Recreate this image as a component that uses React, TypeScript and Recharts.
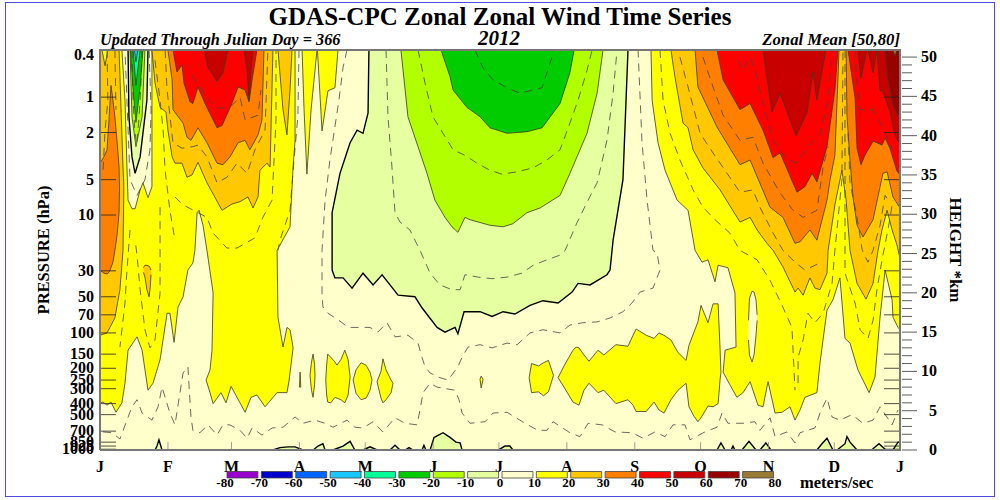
import React from "react";
import { ComposedChart, Area, Line, Bar, Cell, XAxis, YAxis, BarChart } from "recharts";

type P = number[];
const TOP_KM = 50.9;
const monthDays = [0, 31, 60, 91, 121, 152, 182, 213, 244, 274, 305, 335, 365];
const monthLabels = ["J", "F", "M", "A", "M", "J", "J", "A", "S", "O", "N", "D", "J"];
const pressureLabels = ["0.4", "1", "2", "5", "10", "30", "50", "70", "100", "150", "200", "250", "300", "400", "500", "700", "850", "925", "1000"];
const pressureKm = [50.3, 44.9, 40.4, 34.4, 29.9, 22.8, 19.5, 17.2, 14.9, 12.2, 10.4, 8.9, 7.8, 5.9, 4.5, 2.4, 1.0, 0.5, 0.1];
const heightKm = Array.from(Array(51).keys());
const legendEdges = [-80, -70, -60, -50, -40, -30, -20, -10, 0, 10, 20, 30, 40, 50, 60, 70, 80];
const legendColors = ["#9900cc", "#0000cc", "#0066ff", "#19c8ff", "#00ff99", "#00cc00", "#b2ff00", "#e6ffa0", "#ffffcc", "#ffff00", "#ffc800", "#ff8000", "#ff0000", "#c80000", "#990000", "#997a33"];

// contour bands hanging from the top of the plot: [day, lower km]
const yellowMain: P[] = [[0,6],[1.4,6.1],[3.2,5.7],[5,6.1],[7.3,4.8],[10,6],[11.4,8.5],[12.8,12.7],[16.9,14.4],[19.2,12.7],[21.9,7.6],[24.2,8.5],[27.4,11.5],[30.6,17.4],[31.9,17.4],[33.8,13.7],[35.6,18.2],[37.9,19.5],[40.1,22.9],[42.4,23.8],[43.3,25.4],[44.3,30.2],[45.2,30.5],[47,28.6],[48.8,25.4],[51.6,20],[51.1,12.7],[50.2,10.2],[48.4,8.9],[50.2,7.3],[51.6,5.9],[55.2,7.3],[57.5,6],[59.8,8.1],[62.5,6.7],[66.2,4.8],[68.9,6.7],[71.6,7],[75.3,5.5],[80.8,7.3],[85.3,7.3],[86.2,8.7],[88.1,13],[86.7,15.3],[85.3,15.6],[83.5,13.1],[81.2,16.9],[80.8,25.4],[86.7,28.4],[88.1,36],[89,39.4],[89,50.9]];
const yellowSpikeA: P[] = [[92.2,50.9],[93.1,43.3],[94.4,35.1],[96.3,43.3],[99,50.9]];
const yellowSpikeB: P[] = [[99.2,50.9],[101.3,40.6],[104,45.7],[107.2,46.1],[108.6,50.9]];
const paleJan: P[] = [[10,50.9],[11.4,44.5],[12.3,36],[12.8,31.8],[14.6,30.7],[16,30.7],[18.3,33.1],[19.6,34],[21.9,32.1],[23.7,33.5],[23.7,50.9]];
const zeroJan: P[] = [[12.8,50.9],[13.2,42.4],[14.6,37.3],[16,35.2],[18.3,37.3],[21.4,44.5],[21.9,50.9]];
const limeJan: P[] = [[13.7,50.9],[14.6,42.4],[16.4,38.6],[19.2,42.4],[20.5,50.9]];
const greenJan: P[] = [[13.9,50.9],[15.1,45.8],[16.4,41.7],[18.3,46.1],[19.6,50.9]];
const springJan: P[] = [[15.1,50.9],[16.4,46.4],[18.3,50.9]];
const cyanJan: P[] = [[15.7,50.9],[16.4,49.4],[17.3,50.9]];
const goldLeft: P[] = [[0,14.6],[3.2,14.9],[6.8,16.8],[9.1,20.4],[10.5,25.4],[10.9,33.5],[10.5,36],[8.7,50.9]];
const yellowSlit: P[] = [[0.9,50.9],[2.3,48.9],[3.6,50.9]];
const goldMain: P[] = [[23.7,50.9],[25.1,46.7],[27.4,43.6],[30.1,43],[31,40.7],[32.9,37.3],[34.2,36.5],[37.4,36.5],[39.7,34.7],[42,35],[44.7,36.6],[48.8,34],[55.7,30.5],[60.2,31.3],[63.9,31.6],[67.5,32.2],[69.8,30.8],[72.1,32.2],[73,35.6],[76.2,36.5],[77.6,36],[78.9,50.9]];
const goldSpikeApr: P[] = [[81.2,50.9],[83.5,43.3],[85.3,40.1],[86.7,45.8],[87.6,50.9]];
const orangeMain: P[] = [[31,50.9],[32.9,47.1],[33.3,43.3],[37.9,41.6],[39.7,39.8],[41.5,39.4],[44.7,41],[48.8,39.1],[53.4,36.5],[56.1,36.3],[59.3,37.3],[63,39.1],[66.2,39.4],[68.4,38.2],[72.1,40.1],[73.9,42],[74.8,50.9]];
const redMain: P[] = [[33.3,50.9],[35.1,48.1],[37.4,49],[38.3,46.7],[41.1,44.3],[42.4,44.1],[44.7,46.2],[47.9,44.1],[53.4,41],[55.7,41.3],[60.2,44.1],[63,46.2],[66.2,45.8],[68,44.3],[69.4,47.1],[71.6,50.9]];
const darkFebA: P[] = [[47.5,50.9],[49.3,48.7],[53.4,46.9],[56.1,48],[58.4,50.9]];
const darkFebB: P[] = [[65.7,50.9],[67.1,48.3],[68,44.5],[68.9,48.3],[69.8,50.9]];
const zeroSummer: P[] = [[122.7,50.9],[122.3,42.9],[120,40.3],[117.3,40.7],[114.1,39.1],[109.5,35.2],[105.9,30.2],[105.9,22.9],[107.2,21.9],[110.9,21.9],[115,20.6],[120,22.5],[124.6,21],[128.7,22.3],[136,19.7],[143.7,19.5],[146.9,18.1],[153.8,15.6],[157.4,15],[162,15.6],[163.3,14.8],[166.1,17.6],[173.4,17.6],[178.9,17],[183.9,17.6],[189.3,17.3],[196.2,18.4],[202.1,19],[209,18.7],[215.4,20.1],[218.1,21.2],[223.6,21],[231.3,22.3],[232.7,22.9],[234.1,26.7],[238.6,34.4],[240.9,50.9]];
const limeSummer: P[] = [[137.3,50.9],[140.5,42.4],[145.1,38.6],[149.2,35.2],[152.8,31.8],[157.4,29.6],[160.6,28.4],[163.3,27.7],[166.5,29.6],[168.8,29.3],[177.9,28.6],[183.9,28.4],[188.4,28.8],[194.8,30.2],[200.8,30.8],[209.9,32.4],[214.4,35.2],[222.2,40.3],[226.8,45.4],[229.5,50.9]];
const greenSummer: P[] = [[155.6,50.9],[159.7,47.5],[161.1,45.8],[167.4,43.6],[173.4,42.4],[177.9,41],[185.7,40.3],[194.8,40.5],[201.7,41],[209.9,44.1],[214.4,48],[216.3,50.9]];
const yellowRight: P[] = [[251.4,50.9],[251.9,44.5],[254.6,39.1],[257.8,35.6],[263.3,31.8],[268.3,30.5],[271.5,25.4],[274.7,23.9],[277.4,24.2],[280.6,21.4],[282,23.5],[286.5,23.2],[289.7,20],[290.2,13.1],[285.2,12.7],[284.3,9.9],[287.4,8.3],[290.6,6.7],[293.4,7.3],[296.6,8.7],[300.2,5.7],[302.5,5.5],[304.8,8.7],[308,4.7],[311.2,4.8],[314.8,5.5],[317.1,3.8],[319.4,5.1],[321.6,6.7],[327.1,7.3],[328.5,11.1],[331.7,17.8],[334.4,19.1],[337.6,21.9],[339.9,14.2],[342.2,13.6],[345.8,10.2],[350.9,7.3],[353.6,9.3],[355.9,16.9],[358.2,22.9],[361.4,19.1],[361.8,16.9],[364.1,15.6],[365,15.3]];
const goldRight: P[] = [[260.5,50.9],[262.3,47.5],[266,41.6],[268.3,41],[270.6,38.2],[275.1,35.9],[282.9,33.1],[292,29],[296.6,29.6],[299.8,28],[304.3,26.3],[307.1,25.4],[311.6,23.3],[317.1,20.1],[318.5,20.6],[320.8,19.7],[323.9,21.9],[326.2,20.6],[328.5,20.4],[331.7,22.5],[332.2,25.4],[335.3,31.2],[338.5,35.6],[340.4,31.8],[342.2,25.4],[345.4,21.2],[349.5,19.2],[352.7,21.2],[355,25.4],[356.8,28],[359.1,30.5],[361.4,28],[363.6,26.1],[365,24.4]];
const orangeRight: P[] = [[271.5,50.9],[272.8,46.2],[281.5,41.1],[292,36.3],[296.6,36.9],[305.7,30.9],[311.6,29.6],[317.1,26.3],[319.4,26.5],[323.9,28],[327.1,26.7],[331.7,31.8],[333.1,34.4],[335.3,37.5],[336.3,44.5],[337.2,50.9],[340.4,50.9],[340.8,42.6],[342.2,36.8],[343.6,32.1],[345.4,28.6],[348.1,27.1],[352.7,29.3],[357.2,35.2],[359.1,35.4],[361.8,32.2],[365,30.8]];
const redRight: P[] = [[281.5,50.9],[284.3,47.1],[292,43.3],[296.6,44.1],[302.5,40.7],[307.1,37.2],[310.3,37.8],[318,32.8],[321.6,33.5],[324.9,35.2],[327.1,34.1],[331.7,38.6],[333.1,41.4],[335.3,45.8],[336.7,50.9],[341.3,50.9],[344.5,44.8],[345.4,38.4],[347.2,36.3],[349,37.5],[352.7,39.3],[354.5,39.1],[356.8,38.8],[358.2,39.7],[360.4,38.4],[363.6,35.5],[365,35]];
const darkNov: P[] = [[302.5,50.9],[306.6,43],[310.3,45.4],[317.6,40],[322.6,42.9],[325.3,48.1],[327.1,44.5],[331.2,50.9]];
const darkDec: P[] = [[345.8,50.9],[347.2,47.3],[349.9,50.9]];
const darkEnd: P[] = [[350.4,50.9],[352.7,48],[354.5,50.9],[355.9,45.7],[357.2,45.7],[359.1,44.1],[360.4,43.1],[362.7,40.1],[364.1,39.3],[365,39.2]];
const maroonEnd: P[] = [[358.2,50.9],[359.5,47.3],[361.8,43.9],[364.1,42.6],[365,42.5]];
const brownEnd: P[] = [[361.8,50.9],[362.7,50.1],[363.6,50.9]];

// closed islands: [day, lower km, upper km]
const orangeLeft: P[] = [[0,22.9,36.5],[1.8,22.5,37.3],[3.2,22.4,38.2],[4.1,22.6,42],[5,23.2,46.4],[5.9,23.9,44.5],[6.8,25.4,42.4],[7.8,27.4,39.2],[8.7,30.2,36],[8.9,33.1,33.1]];
const goldFeb: P[] = [[19.8,22.6,23.2],[20.5,22,23.5],[21.4,20.4,23.5],[22.4,19.5,23.4],[22.8,20.4,23.2],[23.3,22.3,22.9]];
const paleNov: P[] = [[295.9,14,16.5],[296.3,12.1,19.3],[297.5,11.2,20.2],[298.4,12.1,20.1],[299.3,14.6,19.1],[299.8,16.5,17.2]];
const jetApr1: P[] = [[91,8,8],[91.3,8,9.9],[91.6,8,8]];
const jetApr2: P[] = [[95.8,9.5,9.5],[96.5,7.6,11.2],[97.2,6.7,12.2],[97.9,8.3,10.9],[98.1,9.5,9.5]];
const jetMay1: P[] = [[103,8.9,8.9],[103.4,7,10.8],[103.9,6.1,12.2],[105.3,6,11.8],[107.2,6.7,11.2],[108.1,6.6,10.8],[109.9,6.4,11.5],[111.7,6,12.7],[113.2,7,11.5],[114.1,9.3,9.3]];
const jetMay2: P[] = [[115.5,8.9,8.9],[116.8,7.2,10.2],[119.1,6.4,11.1],[121.4,6.6,10.8],[123.2,7.6,9.9],[124.1,8.9,8.9]];
const jetMay3: P[] = [[126.4,8.7,8.7],[128.2,6.6,10],[129.1,6,11.6],[130.5,6.4,10.2],[132.8,7.3,8.9],[133.7,8.5,8.5]];
const jetJun: P[] = [[173.4,9,9],[173.9,7.9,9.4],[174.8,9,9]];
const jetAug1: P[] = [[195.8,9.2,9.2],[196.9,7.3,11],[200.1,7.4,10.7],[202.3,6.9,11.1],[204.6,7.4,11.4],[206.9,9.5,9.5]];
const jetAug2: P[] = [[209,9.2,9.2],[211.7,8,10.7],[215.8,6.1,12.7],[217.2,5.9,13.1],[218.5,5.7,13],[220.8,7.6,12.1],[223.1,8.5,11.3],[227.2,7.3,12.7],[229.9,7.6,12.1],[235.4,5.9,13.4],[240.9,6.4,13.2],[243.2,5.7,14.6],[244.6,4.9,15.4],[249.2,4.9,14.6],[252.8,6.1,14.2],[255,5.1,14.9],[257.3,4.7,14.6],[260.5,6.4,14],[263.7,7.6,12.4],[267.4,8.5,11.4],[268.7,5.5,13.3],[271,4.3,15],[272.8,3.6,16.3],[274.2,4.1,18.4],[277.4,5.6,16.2],[279.7,5.5,18.6],[282,5.9,18.6],[282.9,8.9,12.9],[283.3,9.9,9.9]];

// ground layer: [day, km]
const groundZero: P[] = [[0,0],[25.1,0],[26,0.5],[26.9,1.3],[28.3,0],[78.9,0],[82.1,0.3],[85.8,0.4],[89,0.4],[92.6,0],[97.2,0],[99.5,0.5],[101.7,0.8],[102.7,0],[106.3,0],[110.9,0.5],[114.1,1.1],[116.3,0],[120,0],[123.2,0.4],[126.4,0],[132.3,0],[134.6,0.6],[136.9,0],[139.2,0],[141,0.3],[142.8,0],[146.9,0],[147.8,0.6],[148.7,0],[150.6,0],[152.4,1.6],[153.8,1.8],[156.5,2.2],[159.7,1.6],[162.4,1],[164.3,0.9],[165.2,0],[181.6,0],[184.8,0.5],[187,0.5],[188.4,0],[281.5,0],[283.3,0.9],[285.2,0],[287.9,0],[288.8,0.5],[289.7,0],[292.9,0],[296.1,1.1],[299.3,0],[301.1,0],[303.8,0.9],[306.1,0],[327.1,0],[329.4,0.8],[331.7,1.5],[334.4,0],[336.3,0],[339.9,0.8],[340.8,1.7],[342.2,1],[345.4,0],[352,0],[355.4,0.8],[358.6,0],[361.8,0],[364.1,1],[365,1]];

// dashed intermediate contours: [day, km]
const dashA: P[] = [[130.5,50.9],[131.4,42.4],[133.2,36],[134.6,30.2],[136.9,29],[141.4,28],[146,25.4],[150.6,22.5],[155.1,21],[160.6,20.4],[164.3,20.4],[166.5,22.3],[172.5,22],[178.9,21.8],[185.7,22],[192.5,22.5],[197.6,23.5],[203.9,24.2],[209.9,24.8],[212.2,25.4],[217.6,28.9],[222.7,31.8],[226.8,34],[231.3,39.4],[234.1,45.4],[235.9,50.9]];
const dashB: P[] = [[145.1,50.9],[148.3,46.7],[151.9,42.4],[156.5,40.3],[161.1,38.2],[166.5,37.5],[172,36.5],[177.9,35.6],[183.4,35.1],[190.3,35.4],[197.6,35.9],[203.9,36.9],[209.9,38.2],[214.4,41.6],[218.1,44.5],[222.2,48.3],[224.5,50.9]];
const dashC: P[] = [[171.1,50.9],[174.8,48.6],[179.3,47.1],[185.7,46.1],[191.6,45.4],[201.7,46.1],[206.2,50],[206.7,50.9]];
const dashD: P[] = [[112.7,50.9],[110.9,48.7],[109,44.5],[104.9,36.9],[102.7,31.8],[101.3,25.4],[101.3,20],[101.7,18.2],[104,17.4],[109.5,16.4],[113.2,15.6],[117.7,15.6],[123.2,15.6],[126.8,15],[130.9,16.2],[134.6,14.4],[140.5,14.6],[145.1,13.6],[146.9,11.8],[148.3,10.6],[150.6,9.8],[155.1,9.2],[158.8,8.9],[163.3,10.6],[165.2,11.8],[167.9,13.1],[173.4,13.4],[178.9,13],[185.7,13.6],[190.3,13.4],[196.2,14.9],[202.1,15.3],[209.9,14.9],[214.4,15.9],[220.4,16.2],[226.8,16.3],[232.7,16.8],[238.6,17.6],[242.7,18.7],[246.4,20.1],[252.3,20.6],[255.5,22.9],[254.1,25.1],[252.3,25.4],[249.6,31.8],[247.3,39.1],[245.5,50.9]];
const dashE: P[] = [[1.4,2.3],[5.5,2.2],[9.1,1.4],[12.3,3.8],[14.6,5.5],[16.9,6.4],[19.2,4.7],[23.7,3.8],[26.5,5.5],[28.3,8],[31.9,4.7],[34.2,3.2],[36.5,7.3],[37.9,9.8],[40.1,10.6],[41.5,4.2],[42.4,2.5],[45.6,2.2],[49.3,3.2],[53.4,1.9],[56.1,3.2],[59.3,3.2],[63.9,2.5],[67.1,1.5],[69.4,2.8],[73.9,1.9],[78.5,2.8],[83.5,2.9],[89,4.2],[92.6,3.4],[98.1,3.8],[102.7,3.4],[106.3,2.9],[112.7,3.8],[116.3,2.9],[120,2.8],[124.6,3.6],[129.1,2.3],[134.6,4.1],[139.2,3.4],[144.6,3.2],[146,5.1],[147.4,7.3],[150.6,8.5],[153.8,8],[162,7.6],[163.8,6.4],[165.2,4.7],[168.8,3.4],[175.7,3.6],[179.3,4.7],[185.7,4.8],[193.9,3.4],[199.8,2.5],[203.9,2.5],[206.7,3.6],[214.4,2.2],[219,1.7],[222.7,3.4],[229.1,3.2],[235,2.3],[242.7,2.2],[247.8,1.5],[253.2,2.3],[257.8,1.7],[261.4,3.2],[266.9,3.2],[269.2,1.3],[276,2.3],[281.5,2.9],[283.8,4.7],[286.5,3.4],[293.4,3.4],[298.8,3.6],[301.1,2.5],[305.7,4.1],[308,1.7],[313.4,2.3],[317.1,0.9],[319.4,2.2],[326.2,2.8],[328.5,4.7],[331.7,6.6],[334,4.2],[337.6,3.8],[343.1,4.5],[348.1,3.4],[352.7,3.8],[355.9,5.5],[361.4,3.2],[364.1,5.1]];
const dashG: P[] = [[255.5,50.9],[256.9,44.5],[260.1,40.3],[264.6,36.9],[270.6,33.1],[275.1,30.9],[280.6,29.3],[287.4,27.6],[292,25.4],[299.8,24.2],[305.7,21.6],[311.2,18.4],[315.7,15.6],[316.2,12.7],[317.1,7.6]];
const dashH: P[] = [[318.5,8.5],[318.5,11.8],[320.8,14],[323,17.4],[326.2,16.2],[329.9,17.4],[334,21.2],[335.3,25.4],[338.5,34.4],[339,50.9]];
const dashI: P[] = [[264.6,50],[268.3,46.2],[273.8,40.3],[279.7,37.8],[286.1,35.2],[292,32.8],[297.9,33.1],[301.1,30.9],[307.1,27.6],[311.6,25.4],[317.1,23.9],[321.6,22.9],[326.2,23.5],[329.4,23.9]];
const dashJ: P[] = [[275.1,50],[279.7,46.2],[284.3,42.6],[292,39.4],[297.9,39.8],[302.5,36.5],[310.3,32.7],[316.2,30.5],[320.8,29.6],[327.1,30.5],[329.9,36],[332.2,38.6]];
const dashK: P[] = [[291.1,49.6],[293.4,48.3],[296.6,50],[299.8,47.5],[302.5,44.1],[307.1,39.4],[312.5,37.3],[317.6,36.5],[323.9,38.8],[328.5,40.1],[332.2,44.5],[334,50.9]];
const dashL: P[] = [[339.9,50.9],[339.9,31.8],[339.9,22.5],[344.5,18.7],[346.8,15.3],[350.4,14.2],[352.7,16.5],[354.5,20.4],[356.8,24.2],[359.5,28],[361.8,31.8]];
const dashM: P[] = [[341.3,40.3],[342.2,34],[345.4,29.6],[347.8,25.4],[350.4,23.9],[352.7,25.4],[355.9,28.6],[358.2,32.4],[360.4,31.5]];
const dashN: P[] = [[344.5,50.9],[345.4,46.7],[346.8,43.3],[352.7,43.3],[357.2,41.1],[361.4,38.2]];
const dashO: P[] = [[29.7,50.9],[30.6,45.8],[33.3,39.1],[37.4,38.4],[42.4,38.6],[44.7,38.8],[48.8,37.3],[53.4,34],[57.9,34.7],[62.5,36.5],[67.1,35.2],[70.7,38.2],[75.3,40.7],[76.6,50.9]];
const dashP: P[] = [[34.2,32.2],[37.9,31.2],[48.8,29.6],[51.6,27.6],[57.9,25.7],[62.5,25.7],[70.7,27],[74.3,29.6],[78.5,31.8],[80.3,42],[80.3,50.9]];
const dashQ: P[] = [[42,47.7],[48.8,44.9],[53.4,43.5],[59.3,43.6],[63.9,44.9],[66.2,42],[72.1,42.6],[73.4,45.8]];
const dashR: P[] = [[27.4,30.9],[27.4,20],[25.1,14],[22.8,13],[20.5,15.3],[18.3,20.4],[16.9,24.8],[16,26.7]];
const dashS: P[] = [[13.7,28],[12.3,22.9],[11.4,18.7],[9.1,13.1]];
const dashT: P[] = [[90.8,50.9],[90.3,42.6],[88.1,35.5],[86.7,30.5],[82.1,26.7],[81.2,25.4]];
const dashU: P[] = [[22.4,50.9],[23.3,43.3],[22.8,38.2],[20.5,34.4],[16.9,32.4],[13.7,34.4],[12.3,44.5],[11.4,50.9]];
const dashV: P[] = [[3.2,50.9],[3.6,44.5],[2.3,40.7],[1.4,35.6]];
const dashW: P[] = [[6.8,50.9],[7.3,43.3]];
const dashX: P[] = [[25.1,49.6],[27.4,44.5],[28.8,40.7],[29.7,35.6],[31.9,30.5],[34.2,26.7]];
const dashY: P[] = [[14.6,50.9],[15,45],[15.8,41],[16.4,39.5]];
const dashZ: P[] = [[19.1,50.9],[18.6,46],[17.6,41.5],[16.8,39.2]];

const plotFrame = [{ day: 0, km: 0 }, { day: 365, km: 0 }, { day: 365, km: TOP_KM }, { day: 0, km: TOP_KM }, { day: 0, km: 0 }];
const plotBackground = [{ day: 0, band: [0, TOP_KM] }, { day: 365, band: [0, TOP_KM] }];

const hang = (a: P[]) => a.map(([day, km]) => ({ day, band: [km, TOP_KM] }));
const isle = (a: P[]) => a.map(([day, lo, hi]) => ({ day, band: [lo, hi] }));
const ground = (a: P[]) => a.map(([day, km]) => ({ day, band: [0, km] }));

const C = { v0: "#e6ffa0", m10: "#b2ff00", m20: "#00cc00", m30: "#00ff99", m40: "#19c8ff", pale: "#ffffcc", y: "#ffff00", g: "#ffc800", o: "#ff8000", r: "#ff0000", d: "#c80000", m: "#990000", b: "#997a33" };

const bands: { data: any[]; fill: string; heavy?: boolean }[] = [
  { data: ground(groundZero), fill: C.v0, heavy: true },
  { data: hang(yellowMain), fill: C.y },
  { data: hang(yellowSpikeA), fill: C.y },
  { data: hang(yellowSpikeB), fill: C.y },
  { data: hang(yellowRight), fill: C.y },
  { data: isle(jetApr1), fill: C.y },
  { data: isle(jetApr2), fill: C.y },
  { data: isle(jetMay1), fill: C.y },
  { data: isle(jetMay2), fill: C.y },
  { data: isle(jetMay3), fill: C.y },
  { data: isle(jetJun), fill: C.y },
  { data: isle(jetAug1), fill: C.y },
  { data: isle(jetAug2), fill: C.y },
  { data: isle(paleNov), fill: C.pale },
  { data: hang(paleJan), fill: C.pale },
  { data: hang(zeroJan), fill: C.v0, heavy: true },
  { data: hang(limeJan), fill: C.m10 },
  { data: hang(greenJan), fill: C.m20 },
  { data: hang(springJan), fill: C.m30 },
  { data: hang(cyanJan), fill: C.m40 },
  { data: hang(goldLeft), fill: C.g },
  { data: hang(yellowSlit), fill: C.y },
  { data: isle(orangeLeft), fill: C.o },
  { data: isle(goldFeb), fill: C.g },
  { data: hang(goldMain), fill: C.g },
  { data: hang(goldSpikeApr), fill: C.g },
  { data: hang(orangeMain), fill: C.o },
  { data: hang(redMain), fill: C.r },
  { data: hang(darkFebA), fill: C.d },
  { data: hang(darkFebB), fill: C.d },
  { data: hang(zeroSummer), fill: C.v0, heavy: true },
  { data: hang(limeSummer), fill: C.m10 },
  { data: hang(greenSummer), fill: C.m20 },
  { data: hang(goldRight), fill: C.g },
  { data: hang(orangeRight), fill: C.o },
  { data: hang(redRight), fill: C.r },
  { data: hang(darkNov), fill: C.d },
  { data: hang(darkDec), fill: C.d },
  { data: hang(darkEnd), fill: C.d },
  { data: hang(maroonEnd), fill: C.m },
  { data: hang(brownEnd), fill: C.b },
];
const dashes = [dashA, dashB, dashC, dashD, dashE, dashG, dashH, dashI, dashJ, dashK, dashL, dashM, dashN, dashO, dashP, dashQ, dashR, dashS, dashT, dashU, dashV, dashW, dashX, dashY, dashZ];
const legendRows = legendColors.map((c, i) => ({ mid: (legendEdges[i] + legendEdges[i + 1]) / 2, span: 1 }));

// inward tick marks, kept above the filled bands: 7.3 days is the tick length on the time axis, 1 km on the height axis
const pressureSegments = pressureKm.slice(1).flatMap((km) => [
  [{ day: 0, km }, { day: 7.3, km }],
  [{ day: 357.7, km }, { day: 365, km }],
]);
const monthSegments = monthDays.slice(1, -1).map((day) => [{ day, km: 0 }, { day, km: 1 }]);

const SERIF = "'Liberation Serif', serif";
const boldText = { fontFamily: SERIF, fontWeight: 700, fill: "#000" } as const;

const LeftTick = (p: any) => (
  <text x={p.x - 4} y={p.y + 5} textAnchor="end" fontSize={16} {...boldText}>{pressureLabels[p.index]}</text>
);
const RightTick = (p: any) => {
  const major = p.payload.value % 5 === 0;
  return (
    <g>
      <line x1={p.x} x2={p.x + (major ? 15 : 10)} y1={p.y} y2={p.y} stroke="#333" strokeWidth={0.8} />
      {major ? <text x={p.x + 35} y={p.y + 5} textAnchor="end" fontSize={16} {...boldText}>{p.payload.value}</text> : null}
    </g>
  );
};
const MonthTick = (p: any) => (
  <text x={p.x} y={p.y + 20} textAnchor="middle" fontSize={16} {...boldText}>{monthLabels[p.index]}</text>
);

export default function App() {
  return (
    <div style={{ position: "absolute", left: 0, top: 0, width: 1000, height: 500, background: "#fff", overflow: "hidden" }}>
      <div style={{ position: "absolute", left: 5, top: 2, width: 990, height: 495, boxSizing: "border-box", border: "1.5px solid #4c4ce0" }} />
      <div style={{ position: "absolute", left: 0, top: 0 }}>
        <ComposedChart width={1000} height={500} margin={{ top: 50, right: 40, bottom: 25, left: 40 }} data={plotBackground}>
          <Area dataKey="band" xAxisId="day" yAxisId="km" data={plotBackground} fill={C.pale} fillOpacity={1} stroke="none" isAnimationActive={false} dot={false} activeDot={false} />
          {bands.map((b, i) => (
            <Area key={i} type="linear" dataKey="band" xAxisId="day" yAxisId="km" data={b.data} fill={b.fill} fillOpacity={1} stroke={b.heavy ? "#000" : "#3a3a20"} strokeWidth={b.heavy ? 1.4 : 0.8} isAnimationActive={false} dot={false} activeDot={false} />
          ))}
          {dashes.map((d, i) => (
            <Line key={i} type="linear" dataKey="km" xAxisId="day" yAxisId="km" data={d.map(([day, km]) => ({ day, km }))} stroke="#444" strokeWidth={0.8} strokeDasharray="8 6" dot={false} activeDot={false} isAnimationActive={false} />
          ))}
          {pressureSegments.map((s, i) => (
            <Line key={"p" + i} type="linear" dataKey="km" xAxisId="day" yAxisId="km" data={s} stroke="#222" strokeWidth={0.8} dot={false} activeDot={false} isAnimationActive={false} />
          ))}
          {monthSegments.map((s, i) => (
            <Line key={"m" + i} type="linear" dataKey="km" xAxisId="day" yAxisId="km" data={s} stroke="#888" strokeWidth={0.8} dot={false} activeDot={false} isAnimationActive={false} />
          ))}
          <Line type="linear" dataKey="km" xAxisId="day" yAxisId="hpa" data={plotFrame} stroke="none" dot={false} activeDot={false} isAnimationActive={false} />
          <XAxis xAxisId="day" dataKey="day" type="number" domain={[0, 365]} ticks={monthDays} interval={0} height={25} tickSize={0} tick={<MonthTick />} axisLine={false} tickLine={false} allowDuplicatedCategory={false} />
          <YAxis yAxisId="hpa" orientation="left" type="number" domain={[0, TOP_KM]} ticks={pressureKm} interval={0} width={60} tickSize={0} tick={<LeftTick />} axisLine={false} tickLine={false} />
          <YAxis yAxisId="km" orientation="right" type="number" domain={[0, TOP_KM]} ticks={heightKm} interval={0} width={60} tickSize={0} tick={<RightTick />} axisLine={false} tickLine={false} />
          <Line type="linear" dataKey="km" xAxisId="day" yAxisId="km" data={plotFrame} stroke="#777" strokeWidth={2} dot={false} activeDot={false} isAnimationActive={false} />
          <text x={500} y={25} textAnchor="middle" fontSize={25} {...boldText}>GDAS-CPC Zonal Zonal Wind Time Series</text>
          <text x={100} y={45} fontSize={16.3} fontStyle="italic" {...boldText}>Updated Through Julian Day = 366</text>
          <text x={499} y={45} textAnchor="middle" fontSize={21} fontStyle="italic" {...boldText}>2012</text>
          <text x={900} y={45} textAnchor="end" fontSize={16.7} fontStyle="italic" {...boldText}>Zonal Mean [50,80]</text>
          <text transform="translate(49,250) rotate(-90)" textAnchor="middle" fontSize={16.5} {...boldText}>PRESSURE (hPa)</text>
          <text transform="translate(950,250) rotate(90)" textAnchor="middle" fontSize={17} {...boldText}>HEIGHT *km</text>
          <text x={800} y={488} fontSize={16.5} {...boldText}>meters/sec</text>
        </ComposedChart>
      </div>
      <div style={{ position: "absolute", left: 0, top: 460 }}>
        <BarChart width={1000} height={40} data={legendRows} margin={{ top: 11.5, right: 225, bottom: 1, left: 225 }}>
          <XAxis dataKey="mid" type="number" domain={[-80, 80]} ticks={legendEdges} interval={0} height={21} tickSize={0} tickMargin={0} axisLine={false} tickLine={false} tick={{ fontFamily: SERIF, fontWeight: 700, fontSize: 13, fill: "#000" }} />
          <YAxis hide type="number" domain={[0, 1]} />
          <Bar dataKey="span" barSize={34.4} stroke="#444" strokeWidth={0.8} isAnimationActive={false}>
            {legendColors.map((c, i) => <Cell key={i} fill={c} />)}
          </Bar>
        </BarChart>
      </div>
    </div>
  );
}
